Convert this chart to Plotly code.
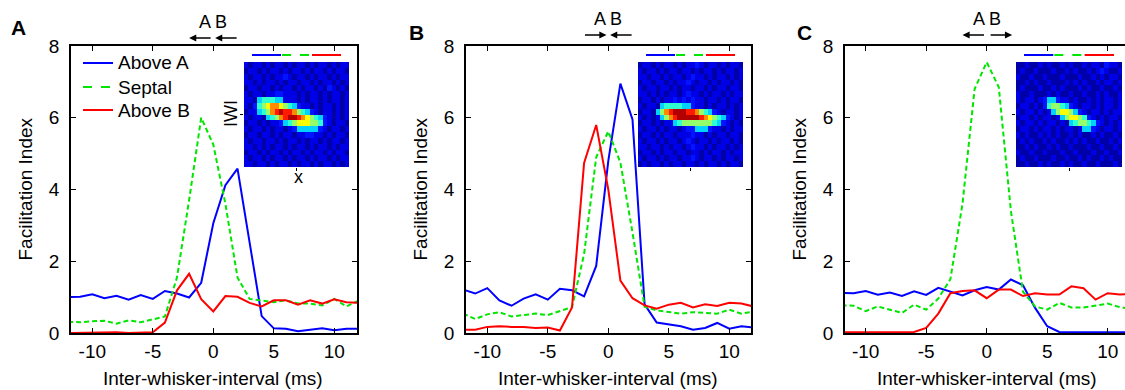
import plotly.graph_objects as go

W, H = 1125, 390
FONT = "Liberation Sans, Arial, sans-serif"

# inter-whisker interval (ms)
iwi = list(range(-12, 13))

# Panel A
a_above_a = [1.0, 1.01, 1.08, 0.97, 1.04, 0.93, 1.06, 0.95, 1.17, 1.1, 0.99, 1.4, 3.06,
             4.12, 4.58, 2.5, 0.47, 0.13, 0.12, 0.05, 0.08, 0.13, 0.08, 0.12, 0.12]
a_septal = [0.31, 0.3, 0.33, 0.34, 0.26, 0.35, 0.3, 0.37, 0.46, 1.55, 3.7, 6.0, 5.25,
            3.6, 1.55, 0.95, 0.91, 0.86, 0.91, 0.82, 0.82, 0.77, 0.95, 0.74, 0.9]
a_above_b = [0.0, 0.01, 0.0, 0.01, 0.02, 0.0, 0.01, 0.02, 0.29, 1.19, 1.65, 0.94, 0.6,
             1.03, 1.01, 0.84, 0.74, 0.91, 0.91, 0.79, 0.91, 0.82, 0.94, 0.86, 0.84]

# Panel B
b_above_a = [1.21, 1.1, 1.25, 0.91, 0.76, 0.96, 1.08, 0.93, 1.23, 1.19, 1.02, 1.87, 4.8,
             6.95, 5.95, 0.8, 0.29, 0.24, 0.19, 0.09, 0.14, 0.28, 0.12, 0.19, 0.15]
b_septal = [0.54, 0.39, 0.52, 0.58, 0.46, 0.49, 0.54, 0.5, 0.6, 0.72, 2.2, 4.9, 5.62,
            4.75, 2.8, 0.73, 0.63, 0.58, 0.54, 0.58, 0.56, 0.54, 0.65, 0.54, 0.6]
b_above_b = [0.09, 0.09, 0.17, 0.19, 0.17, 0.17, 0.14, 0.15, 0.07, 0.71, 4.74, 5.8, 4.0,
             1.46, 0.97, 0.77, 0.68, 0.79, 0.84, 0.71, 0.8, 0.75, 0.84, 0.82, 0.74]

# Panel C
c_above_a = [1.12, 1.11, 1.17, 1.07, 1.13, 1.03, 1.16, 1.06, 1.26, 1.16, 1.05, 1.19, 1.28,
             1.21, 1.49, 1.33, 0.7, 0.19, 0.03, 0.02, 0.02, 0.02, 0.02, 0.02, 0.02]
c_septal = [0.77, 0.76, 0.61, 0.74, 0.65, 0.56, 0.79, 0.65, 0.96, 1.5, 3.6, 6.8, 7.55,
            6.85, 3.4, 1.15, 0.74, 0.65, 0.84, 0.71, 0.71, 0.77, 0.82, 0.72, 0.67]
c_above_b = [0.02, 0.02, 0.03, 0.02, 0.02, 0.02, 0.03, 0.14, 0.54, 1.11, 1.17, 1.19, 0.97,
             1.21, 1.21, 1.03, 1.11, 1.07, 1.07, 1.3, 1.25, 0.93, 1.11, 1.07, 1.1]

x_ticks = [-10, -5, 0, 5, 10]
y_ticks = [0, 2, 4, 6, 8]

# Response maps (position x IWI), one intensity level 0-9 per cell
map_a = [
    "101101011010110101101011",
    "011010110101101011010110",
    "101101011210110101101011",
    "110101101011011010110101",
    "011011010110101101021010",
    "101101122111010110101101",
    "110344433111010110101101",
    "102456776543211010110101",
    "011345789887543210110101",
    "101103457899876543210101",
    "011010112345666554210110",
    "101101011012333332101101",
    "011011010110112211010110",
    "101101101011010110101101",
    "110101011010110101101011",
    "011010110101101011010110",
    "101101011010110101101011",
    "110110101101011010110101",
]
map_b = [
    "011010110101121011010110",
    "101101011011010110101101",
    "110110101101211010110101",
    "011011010112101101011010",
    "101101101011011010110110",
    "110101011012110101101011",
    "011010112121211011010110",
    "101103444433211010110101",
    "011035789998875432101101",
    "101013578999998765432101",
    "011010113455555554321010",
    "101101011012233321101011",
    "011010110111211010110110",
    "101101011012101101011010",
    "110110101101211010110101",
    "011010110110110101101011",
    "101101011011210110101101",
    "010110101101101011010110",
]
map_c = [
    "001001010010100101102110",
    "010010001001010010121001",
    "100100100010001001010110",
    "001010010001010100101101",
    "010001001010001010010010",
    "100100010100100100101001",
    "101101233211010010101101",
    "011010245543210110101101",
    "101101013566532101101011",
    "011010110135665421010110",
    "101101011010345543210101",
    "011010110101101332101101",
    "101001010100101001010010",
    "010100101001010100100101",
    "001010010100100010010010",
    "100100100010010001001001",
    "010010001001001010010100",
    "001001010010100100100010",
]
# normalised response for each intensity level
levels = [0.04, 0.10, 0.145, 0.33, 0.42, 0.52, 0.62, 0.74, 0.85, 0.95]

names = ["Above A", "Septal", "Above B"]
BLUE, GREEN, RED = "rgb(0,0,255)", "rgb(0,230,0)", "rgb(255,0,0)"
colors = [BLUE, GREEN, RED]
dashes = ["solid", "5px,3px", "solid"]
JET = [[0.0, "rgb(0,0,128)"], [0.125, "rgb(0,0,255)"], [0.375, "rgb(0,255,255)"],
       [0.625, "rgb(255,255,0)"], [0.875, "rgb(255,0,0)"], [1.0, "rgb(128,0,0)"]]


def px_x(p):
    return p / W


def px_y(p):
    return 1 - p / H


panels = [
    dict(sfx="", l=71, r=357, x0=213.3, ins=(244, 349), data=(a_above_a, a_septal, a_above_b),
         zmap=map_a, letter="A", lx=18, ly=28, dy=3),
    dict(sfx="2", l=466, r=751, x0=608.3, ins=(638, 743), data=(b_above_a, b_septal, b_above_b),
         zmap=map_b, letter="B", lx=416, ly=32, dy=0),
    dict(sfx="3", l=845, r=1125, x0=986.7, ins=(1016, 1122), data=(c_above_a, c_septal, c_above_b),
         zmap=map_c, letter="C", lx=804, ly=32, dy=0),
]
PXU = 12.1  # px per ms
Y_TOP, Y_BOT = 46, 333
INS_TOP, INS_BOT = 62, 167

fig = go.Figure()
layout = dict(width=W, height=H, margin=dict(l=0, r=0, t=0, b=0),
              paper_bgcolor="white", plot_bgcolor="white", template="none",
              font=dict(family=FONT, size=18, color="black"), showlegend=False)
annotations, shapes = [], []


def label(text, x, y, size=19, xref="paper", angle=0, **kw):
    annotations.append(dict(text=text, xref=xref, yref="paper", x=x, y=y,
                            xanchor="center", yanchor="middle", textangle=angle,
                            showarrow=False, font=dict(size=size), **kw))


for i, p in enumerate(panels):
    sfx = p["sfx"]
    xa, ya = "x" + sfx, "y" + sfx
    for k in range(3):
        fig.add_trace(go.Scatter(
            x=iwi, y=p["data"][k], mode="lines", name=names[k], xaxis=xa, yaxis=ya,
            line=dict(color=colors[k], width=2, dash=dashes[k]), hoverinfo="skip"))
    left = (p["l"] - p["x0"]) / PXU
    right = (p["r"] - p["x0"]) / PXU
    last = i == 2
    layout["xaxis" + sfx] = dict(
        domain=[px_x(p["l"]), px_x(p["r"])], range=[left, right], anchor=ya,
        showline=True, linecolor="black", linewidth=1.5, mirror="ticks",
        ticks="inside", ticklen=5, tickwidth=1.3, tickcolor="black",
        tickvals=x_ticks, ticktext=[str(t) if t >= 0 else "-" + str(-t) for t in x_ticks],
        showgrid=False, zeroline=False, automargin=False,
        tickfont=dict(size=19), ticklabelstandoff=0)
    layout["yaxis" + sfx] = dict(
        domain=[px_y(Y_BOT), px_y(Y_TOP)], range=[0, 8], anchor=xa,
        showline=True, linecolor="black", linewidth=1.5,
        mirror=False if last else "ticks",
        ticks="inside", ticklen=5, tickwidth=1.3, tickcolor="black",
        tickvals=y_ticks, showgrid=False, zeroline=False, automargin=False,
        tickfont=dict(size=19), ticklabelstandoff=6)

    # inset response map
    isfx = str(i + 4)
    ixa, iya = "x" + isfx, "y" + isfx
    z = [[levels[int(ch)] for ch in row] for row in p["zmap"]]
    fig.add_trace(go.Heatmap(z=z, xaxis=ixa, yaxis=iya, colorscale=JET, zmin=0, zmax=1,
                             showscale=False, hoverinfo="skip"))
    il, ir = p["ins"]
    ncol, nrow = len(z[0]), len(z)
    layout["xaxis" + isfx] = dict(
        domain=[px_x(il), px_x(ir)], range=[-0.5, ncol - 0.5], anchor=iya,
        showline=False, ticks="outside", ticklen=3, tickcolor="black", tickwidth=1.2,
        tickvals=[(ncol - 1) / 2], showticklabels=False, showgrid=False, zeroline=False,
        automargin=False)
    layout["yaxis" + isfx] = dict(
        domain=[px_y(INS_BOT), px_y(INS_TOP)], range=[nrow - 0.5, -0.5], anchor=ixa,
        showline=False, ticks="outside", ticklen=3, tickcolor="black", tickwidth=1.2,
        tickvals=[(nrow - 1) / 2], showticklabels=False, showgrid=False, zeroline=False,
        automargin=False)

    # colour key above the inset
    seg = (ir - il - 15) / 3
    for k in range(3):
        x_a = il + 8 + k * seg
        shapes.append(dict(type="line", xref="paper", yref="paper",
                           x0=px_x(x_a), x1=px_x(x_a + seg - 1), y0=px_y(55), y1=px_y(55),
                           line=dict(color=colors[k], width=2,
                                     dash="dash" if k == 1 else "solid")))

    # axis titles, panel letter, whisker labels
    label("Inter-whisker-interval (ms)", 0, px_y(378), xref=xa)
    label("Facilitation Index", px_x(p["l"] - 46), px_y((Y_TOP + Y_BOT) / 2), angle=-90)
    label("<b>%s</b>" % p["letter"], px_x(p["lx"]), px_y(p["ly"]), size=21)
    label("A B", 0, px_y(19 + p["dy"]), size=18, xref=xa)

# deflection directions: (head, tail offset in px)
arrow_sets = [
    [(-2.0, 23), (0.15, 23)],
    [(-0.15, -23), (0.15, 23)],
    [(-2.0, 23), (2.1, -23)],
]
for p, arrows in zip(panels, arrow_sets):
    for head, tail in arrows:
        annotations.append(dict(text="", xref="x" + p["sfx"], yref="paper", x=head,
                                y=px_y(35 + p["dy"]), axref="pixel", ayref="pixel",
                                ax=tail, ay=0, showarrow=True, arrowhead=2, arrowsize=1.1,
                                arrowwidth=1.3, arrowcolor="black", standoff=0,
                                startstandoff=0))

# inset axis labels (panel A)
label("IWI", px_x(231), px_y(114), size=18, angle=-90)
label("x", px_x(298), px_y(177), size=18)

# legend of panel A
for k, (name, color, dash) in enumerate(zip(names, colors, dashes)):
    yk = [63, 87, 110][k]
    shapes.append(dict(type="line", xref="paper", yref="paper", x0=px_x(83), x1=px_x(113),
                       y0=px_y(yk), y1=px_y(yk),
                       line=dict(color=color, width=2, dash="dash" if k == 1 else "solid")))
    annotations.append(dict(text=name, xref="paper", yref="paper", x=px_x(116), y=px_y(yk),
                            xanchor="left", yanchor="middle", showarrow=False,
                            font=dict(size=19)))

layout["annotations"] = annotations
layout["shapes"] = shapes
fig.update_layout(**layout)
fig.write_html("out.html")
